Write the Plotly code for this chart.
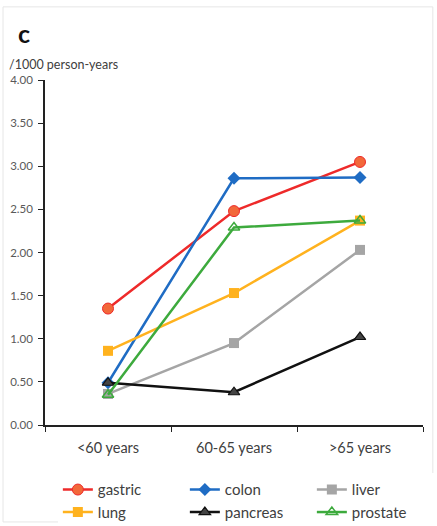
import plotly.graph_objects as go

# Age groups and incidence per 1000 person-years
age_groups = ["<60 years", "60-65 years", ">65 years"]
gastric = [1.35, 2.48, 3.05]
colon = [0.49, 2.86, 2.87]
liver = [0.36, 0.95, 2.03]
lung = [0.86, 1.53, 2.37]
pancreas = [0.49, 0.38, 1.02]
prostate = [0.35, 2.29, 2.37]

series = [
    ("gastric", gastric, "#EE2A2A", dict(symbol="circle", size=11, color="#F2683A", line=dict(color="#EE2A2A", width=1))),
    ("colon", colon, "#1F6CC4", dict(symbol="diamond", size=10, color="#1F6CC4")),
    ("liver", liver, "#A5A5A5", dict(symbol="square", size=10, color="#A5A5A5")),
    ("lung", lung, "#FFB21E", dict(symbol="square", size=10, color="#FFB21E")),
    ("pancreas", pancreas, "#111111", dict(symbol="triangle-up", size=10, color="#444444", line=dict(color="#111111", width=1.2))),
    ("prostate", prostate, "#3DAA3D", dict(symbol="triangle-up-open", size=10, color="#3DAA3D", line=dict(width=1.5))),
]

fig = go.Figure()
for name, vals, col, mk in series:
    fig.add_trace(go.Scatter(
        x=age_groups, y=vals, name=name, mode="lines+markers",
        line=dict(color=col, width=2.5), marker=mk,
    ))

font_family = "Lato, 'Open Sans', sans-serif"

fig.update_layout(
    width=437, height=526,
    margin=dict(l=45, r=14, t=80, b=101, autoexpand=False),
    paper_bgcolor="white", plot_bgcolor="white",
    font=dict(family=font_family, color="#404040"),
    showlegend=True,
    legend=dict(
        orientation="h", x=0.034, xanchor="left", y=-0.14, yanchor="top",
        entrywidth=82, entrywidthmode="pixels",
        font=dict(size=15, color="#404040"), tracegroupgap=0,
        itemwidth=30,
    ),
    xaxis=dict(
        type="category", showline=True, linecolor="#222222", linewidth=1.5,
        ticks="outside", tickson="boundaries", ticklen=5, tickcolor="#222222",
        showgrid=False, tickfont=dict(size=14.5, color="#404040"),
        ticklabelstandoff=9, range=[-0.5, 2.5],
    ),
    yaxis=dict(
        range=[0, 4], dtick=0.5, tickformat=".2f", showline=True,
        linecolor="#222222", linewidth=1.5, ticks="outside", ticklen=5,
        tickcolor="#222222", showgrid=False, zeroline=False,
        tickfont=dict(size=11.5, color="#595959"), ticklabelstandoff=3,
    ),
    annotations=[
        dict(text="<b>c</b>", xref="paper", yref="paper", x=-0.078, y=1.135,
             xanchor="left", yanchor="middle", showarrow=False,
             font=dict(size=25, color="#111111", family=font_family)),
        dict(text="/1000 person-years", xref="paper", yref="paper", x=-0.1, y=1.045,
             xanchor="left", yanchor="middle", showarrow=False,
             font=dict(size=12.5, color="#404040", family=font_family)),
    ],
    shapes=[
        dict(type="rect", xref="paper", yref="paper", x0=-0.111, x1=1.026,
             y0=-0.281, y1=1.212, line=dict(color="#E6E6E6", width=1), layer="below"),
    ],
)

fig.write_html("out.html")
